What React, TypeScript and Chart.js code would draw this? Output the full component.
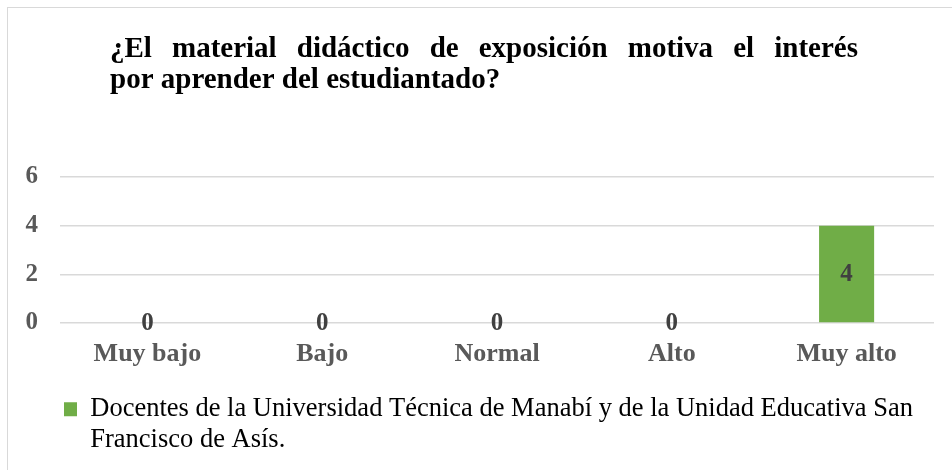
import { useEffect, useRef } from 'react';
import { Chart, registerables } from 'chart.js';

Chart.register(...registerables);

const TITLE_LINES = [
  '¿El material didáctico de exposición motiva el interés',
  'por aprender del estudiantado?',
];
const CATEGORIES = ['Muy bajo', 'Bajo', 'Normal', 'Alto', 'Muy alto'];
const VALUES = [0, 0, 0, 0, 4];
const SERIES_LABEL_LINES = [
  'Docentes de la Universidad Técnica de Manabí y de la Unidad Educativa San',
  'Francisco de Asís.',
];
const Y_MIN = 0;
const Y_MAX = 6;
const Y_STEP = 2;

const SERIF = '"Liberation Serif", "Times New Roman", serif';
const GREEN = '#70ad47';

const titlePlugin = {
  id: 'justifiedTitle',
  afterDraw(chart: any) {
    const ctx = chart.ctx as CanvasRenderingContext2D;
    const left = 102;
    const justifyWidth = 748;
    const baselines = [49, 80];
    ctx.save();
    ctx.font = `bold 29px ${SERIF}`;
    ctx.fillStyle = '#000000';
    ctx.textBaseline = 'alphabetic';
    ctx.textAlign = 'left';
    TITLE_LINES.forEach((line, i) => {
      if (i === 0) {
        const words = line.split(' ');
        const widths = words.map((w) => ctx.measureText(w).width);
        const total = widths.reduce((a, b) => a + b, 0);
        const gap = (justifyWidth - total) / (words.length - 1);
        let x = left;
        words.forEach((w, k) => {
          ctx.fillText(w, x, baselines[i]);
          x += widths[k] + gap;
        });
      } else {
        ctx.fillText(line, left, baselines[i]);
      }
    });
    ctx.restore();
  },
};

const valueLabelPlugin = {
  id: 'valueLabels',
  afterDatasetsDraw(chart: any) {
    const ctx = chart.ctx as CanvasRenderingContext2D;
    ctx.save();
    ctx.font = `bold 25px ${SERIF}`;
    ctx.fillStyle = '#404040';
    ctx.textAlign = 'center';
    ctx.textBaseline = 'middle';
    chart.data.datasets.forEach((ds: any, di: number) => {
      const meta = chart.getDatasetMeta(di);
      meta.data.forEach((el: any, i: number) => {
        const y = (el.y + el.base) / 2;
        ctx.fillText(String(ds.data[i]), el.x, y + 1);
      });
    });
    ctx.restore();
  },
};

export default function App() {
  const canvasRef = useRef<HTMLCanvasElement | null>(null);

  useEffect(() => {
    if (!canvasRef.current) return;
    const chart = new Chart(canvasRef.current, {
      type: 'bar',
      data: {
        labels: CATEGORIES,
        datasets: [
          {
            label: SERIES_LABEL_LINES.join(' '),
            data: VALUES,
            backgroundColor: GREEN,
            borderWidth: 0,
            categoryPercentage: 1,
            barPercentage: 0.315,
          },
        ],
      },
      options: {
        animation: false,
        responsive: false,
        maintainAspectRatio: false,
        layout: { padding: { left: 17, right: 18, top: 169, bottom: 7 } },
        plugins: {
          title: { display: false },
          tooltip: { enabled: false },
          legend: {
            display: true,
            position: 'bottom',
            align: 'start',
            fullSize: false,
            labels: {
              font: { family: SERIF, size: 26.5 },
              color: '#595959',
              boxWidth: 13,
              boxHeight: 14,
              padding: 4,
              generateLabels: () => [
                {
                  text: SERIES_LABEL_LINES[0],
                  fillStyle: GREEN,
                  strokeStyle: GREEN,
                  lineWidth: 0,
                  hidden: false,
                  datasetIndex: 0,
                },
                {
                  text: SERIES_LABEL_LINES[1],
                  fillStyle: 'rgba(0,0,0,0)',
                  strokeStyle: 'rgba(0,0,0,0)',
                  lineWidth: 0,
                  hidden: false,
                  datasetIndex: 0,
                },
              ],
            },
          },
        },
        scales: {
          x: {
            grid: { display: false, drawTicks: false },
            border: { display: false },
            ticks: {
              font: { family: SERIF, size: 26, weight: 'bold' },
              color: '#595959',
              padding: 16,
            },
            afterFit: (s: any) => {
              s.height = 69;
            },
          },
          y: {
            min: Y_MIN,
            max: Y_MAX,
            ticks: {
              stepSize: Y_STEP,
              font: { family: SERIF, size: 25, weight: 'bold' },
              color: '#595959',
              padding: 22,
            },
            grid: { color: '#d9d9d9', lineWidth: 1.5, drawTicks: false },
            border: { display: false },
            afterFit: (s: any) => {
              s.width = 35;
            },
          },
        },
      },
      plugins: [titlePlugin, valueLabelPlugin],
    } as any);
    return () => chart.destroy();
  }, []);

  return (
    <div
      style={{
        position: 'fixed',
        left: 7,
        top: 7,
        width: 945,
        height: 463,
        overflow: 'hidden',
        borderLeft: '1px solid #d9d9d9',
        borderTop: '1px solid #d9d9d9',
        background: '#ffffff',
      }}
    >
      <canvas ref={canvasRef} width={944} height={462} style={{ display: 'block' }} />
    </div>
  );
}
